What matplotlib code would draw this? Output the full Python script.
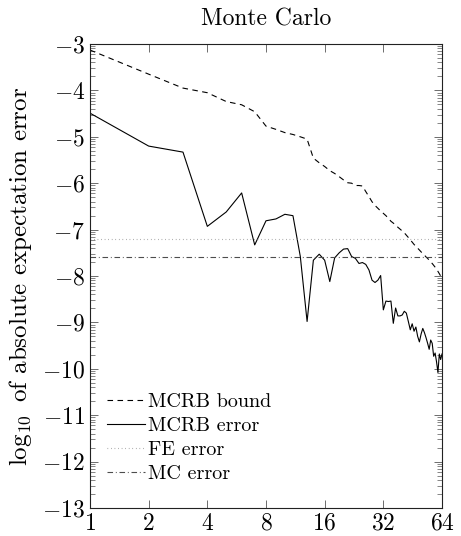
import numpy as np
import matplotlib
matplotlib.use("Agg")
import matplotlib.pyplot as plt
from matplotlib.ticker import FixedLocator, NullLocator

plt.rcParams["font.family"] = ["cmr10", "DejaVu Serif"]
plt.rcParams["mathtext.fontset"] = "cm"
plt.rcParams["axes.formatter.use_mathtext"] = True

# sample counts
n_samples = np.arange(1, 65)

# log10 of the MCRB bound
mcrb_bound = [
    -3.13, -3.65, -3.95, -4.05, -4.24, -4.31, -4.46, -4.77, -4.84, -4.91,
    -4.95, -5.00, -5.05, -5.46, -5.56, -5.64, -5.73, -5.79, -5.86, -5.93,
    -5.99, -6.00, -6.05, -6.05, -6.06, -6.18, -6.29, -6.40, -6.48, -6.54,
    -6.60, -6.65, -6.70, -6.76, -6.82, -6.86, -6.90, -6.95, -6.99, -7.03,
    -7.07, -7.12, -7.17, -7.22, -7.27, -7.32, -7.36, -7.40, -7.44, -7.48,
    -7.52, -7.55, -7.59, -7.62, -7.66, -7.70, -7.73, -7.77, -7.81, -7.86,
    -7.90, -7.95, -8.00, -8.05,
]

# log10 of the MCRB error
mcrb_error = [
    -4.49, -5.20, -5.33, -6.93, -6.62, -6.21, -7.33, -6.81, -6.77, -6.67,
    -6.70, -7.58, -8.98, -7.66, -7.53, -7.66, -8.12, -7.61, -7.50, -7.42,
    -7.41, -7.58, -7.62, -7.73, -7.71, -7.75, -7.87, -8.09, -8.14, -8.09,
    -7.99, -8.73, -8.54, -8.55, -8.54, -9.02, -8.69, -8.86, -8.86, -8.84,
    -8.76, -8.80, -8.98, -9.16, -9.03, -9.19, -9.10, -9.30, -9.42, -9.25,
    -9.13, -9.22, -9.33, -9.45, -9.58, -9.38, -9.45, -9.73, -9.66, -9.85,
    -10.08, -9.68, -9.80, -9.68,
]

fe_error = -7.21
mc_error = -7.60

x_ticks = [1, 2, 4, 8, 16, 32, 64]
y_ticks = list(range(-13, -2))

fig = plt.figure(figsize=(4.61, 5.36), dpi=100)
ax = fig.add_axes([90 / 461, 1 - 508 / 536, 352 / 461, 464 / 536])

ax.plot(n_samples, mcrb_bound, color="black", lw=0.8, dashes=(5, 4),
        label="MCRB bound")
ax.plot(n_samples, mcrb_error, color="black", lw=0.8, label="MCRB error")
ax.axhline(fe_error, color="#8c8c8c", lw=0.8, dashes=(0.6, 2.6),
           label="FE error")
ax.axhline(mc_error, color="#4d4d4d", lw=0.8, dashes=(5, 2.5, 0.8, 2.5),
           label="MC error")

ax.set_xscale("log", base=2)
ax.set_xlim(1, 64)
ax.set_ylim(-13, -3)
ax.xaxis.set_major_locator(FixedLocator(x_ticks))
ax.xaxis.set_minor_locator(NullLocator())
ax.set_xticklabels([f"${t}$" for t in x_ticks])
ax.yaxis.set_major_locator(FixedLocator(y_ticks))
ax.set_yticklabels([f"${t}$" for t in y_ticks])
minor_y = [n + np.log10(k) for n in range(-13, -3) for k in range(2, 10)]
ax.yaxis.set_minor_locator(FixedLocator(minor_y))

ax.tick_params(which="both", direction="in", top=True, right=True,
               labelsize=17, color="#555555")
ax.tick_params(which="major", length=6, width=0.6)
ax.tick_params(which="minor", length=3.5, width=0.5)
for s in ax.spines.values():
    s.set_linewidth(0.8)
    s.set_color("#222222")

ax.set_title("Monte Carlo", fontsize=17, pad=13)
ax.set_ylabel(r"$\log_{10}$ of absolute expectation error", fontsize=18,
              labelpad=6)

ax.legend(loc="lower left", bbox_to_anchor=(0.025, 0.036), frameon=False,
          fontsize=14.5, handlelength=1.9, handletextpad=0.15,
          labelspacing=0.3, borderaxespad=0)

fig.savefig("out.png", dpi=100)
